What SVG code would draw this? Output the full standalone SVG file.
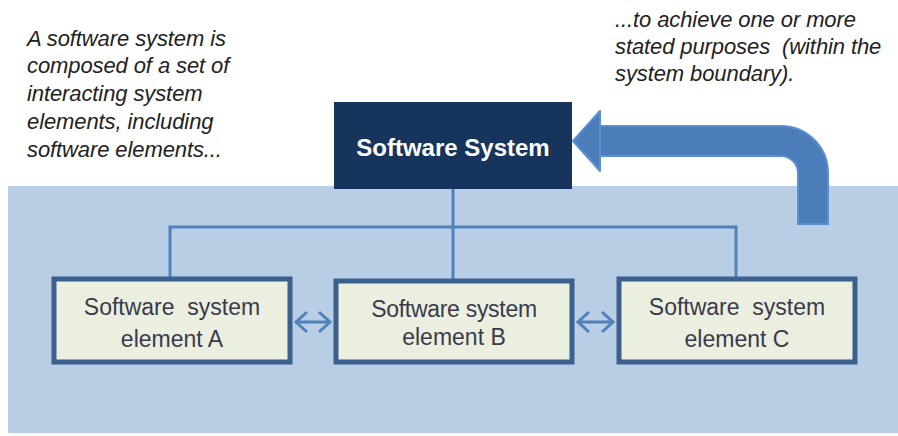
<svg xmlns="http://www.w3.org/2000/svg" width="898" height="436" viewBox="0 0 898 436">
<style>
.note{font-family:"Liberation Sans",Arial,sans-serif;font-style:italic;font-size:22px;fill:#222;letter-spacing:-0.1px}
.elem rect{fill:#ebefdf;stroke:#3b5f8f;stroke-width:5}
.elem text{font-family:"Liberation Sans",Arial,sans-serif;font-size:23px;fill:#3a3a4c;text-anchor:middle}
.conn{fill:none;stroke:#4f81bd;stroke-width:3}
.chev{fill:none;stroke:#4f81bd;stroke-width:3;stroke-linejoin:miter}
</style>
<rect id="boundary" x="8" y="186" width="890" height="247" fill="#b9cde5"/>
<g id="note-left">
<text class="note" x="27" y="46">A software system is</text>
<text class="note" x="27" y="73">composed of a set of</text>
<text class="note" x="27" y="101">interacting system</text>
<text class="note" x="27" y="129">elements, including</text>
<text class="note" x="27" y="157">software elements...</text>
</g>
<g id="note-right">
<text class="note" x="615" y="27">...to achieve one or more</text>
<text class="note" x="615" y="54" xml:space="preserve">stated purposes  (within the</text>
<text class="note" x="615" y="81">system boundary).</text>
</g>
<g id="connectors">
<path class="conn" d="M453,189 V227 M170,277 V227 H736 V277 M453,227 V279"/>
<g id="link-ab">
<line class="conn" x1="296" y1="322" x2="330" y2="322"/>
<path class="chev" d="M307,312 L296,322 L307,332 M319,312 L330,322 L319,332"/>
</g>
<g id="link-bc">
<line class="conn" x1="578" y1="322" x2="613" y2="322"/>
<path class="chev" d="M589,312 L578,322 L589,332 M602,312 L613,322 L602,332"/>
</g>
<g id="purpose-arrow">
<path d="M598,141 H781 A32,32 0 0 1 813,173 V225" fill="none" stroke="#5a8fd4" stroke-width="32"/>
<path d="M598,141 H781 A32,32 0 0 1 813,173 V223" fill="none" stroke="#4a7dba" stroke-width="28"/>
<polygon points="573,141 600,111 600,171" fill="#4a7dba" stroke="#5a8fd4" stroke-width="2" stroke-linejoin="round"/>
</g>
</g>
<g id="software-system">
<rect x="334" y="102" width="238" height="87" fill="#17355c"/>
<text x="453" y="156" font-family="'Liberation Sans',Arial,sans-serif" font-weight="bold" font-size="24" fill="#ffffff" text-anchor="middle">Software System</text>
</g>
<g id="element-a" class="elem">
<rect x="54" y="279" width="236" height="83"/>
<text x="172" y="315" xml:space="preserve">Software  system</text>
<text x="172" y="347">element A</text>
</g>
<g id="element-b" class="elem">
<rect x="336" y="281" width="236" height="81"/>
<text x="454" y="317" letter-spacing="-0.3">Software system</text>
<text x="454" y="345">element B</text>
</g>
<g id="element-c" class="elem">
<rect x="619" y="279" width="236" height="83"/>
<text x="737" y="315" xml:space="preserve">Software  system</text>
<text x="737" y="347">element C</text>
</g>
</svg>
